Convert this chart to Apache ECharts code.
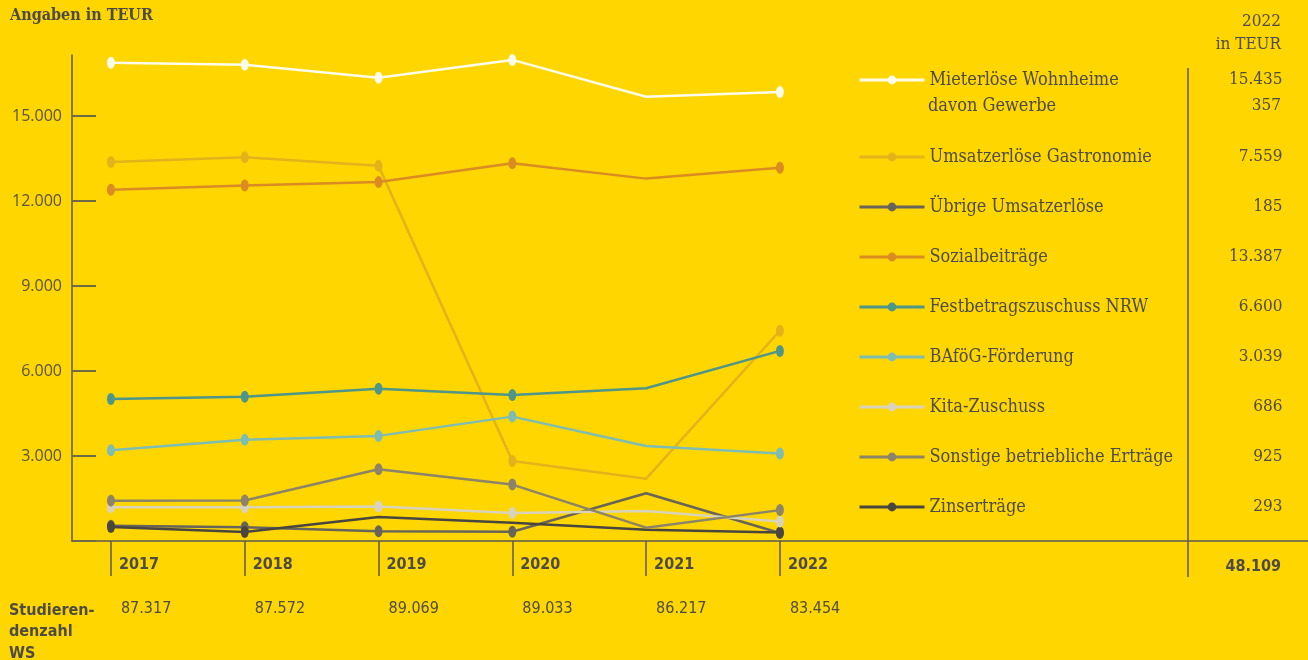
<!DOCTYPE html>
<html><head><meta charset="utf-8">
<script src="https://cdn.jsdelivr.net/npm/echarts@6/dist/echarts.min.js"></script>
<style>html,body{margin:0;padding:0;background:#FFD600;} #c{width:1308px;height:660px;}</style>
</head><body><div id="c"></div>
<script>
// ---- data ----
const years = [2017, 2018, 2019, 2020, 2021, 2022];
const yTicks = [3000, 6000, 9000, 12000, 15000];
const mieterloese = [16880, 16810, 16350, 16980, 15680, 15850];
const gastronomie = [13380, 13540, 13240, 2820, 2200, 7420];
const uebrige = [540, 484, 342, 328, 1684, 282];
const sozial = [12400, 12550, 12670, 13330, 12790, 13170];
const festbetrag = [5010, 5090, 5370, 5150, 5390, 6710];
const bafoeg = [3200, 3570, 3710, 4390, 3350, 3090];
const kita = [1190, 1190, 1215, 985, 1055, 685];
const sonstige = [1425, 1430, 2530, 1990, 470, 1090];
const zins = [494, 318, 847, 646, 400, 300];
const names = ['Mieterlöse Wohnheime', 'Umsatzerlöse Gastronomie', 'Übrige Umsatzerlöse', 'Sozialbeiträge',
  'Festbetragszuschuss NRW', 'BAföG-Förderung', 'Kita-Zuschuss', 'Sonstige betriebliche Erträge', 'Zinserträge'];
const values2022 = ['15.435', '7.559', '185', '13.387', '6.600', '3.039', '686', '925', '293'];
const gewerbeLabel = 'davon Gewerbe';
const gewerbeValue = '357';
const total2022 = '48.109';
const students = ['87.317', '87.572', '89.069', '89.033', '86.217', '83.454'];

// ---- style ----
const TXT = '#4d4b45';
const BG = '#FFD600';
const serif = '"DejaVu Serif Condensed", "DejaVu Serif", serif';
const cond = '"DejaVu Sans Condensed", "DejaVu Sans", sans-serif';
const colors = ['#FFFCEA', '#E2B31A', '#67645B', '#DA8B22', '#4E968A', '#7EBDB3', '#D8D3BA', '#8C8468', '#48463F'];
const seriesData = [mieterloese, gastronomie, uebrige, sozial, festbetrag, bafoeg, kita, sonstige, zins];
const noMarker = [[2021], [2021], [2021], [2021], [2021], [2021], [2021], [2021], [2019, 2020, 2021]];
const zOrder = [9, 5, 3, 6, 7, 6, 4, 4, 3];

const series = names.map((n, k) => ({
  type: 'line', name: n,
  data: years.map((y, i) => {
    const p = { value: [y, seriesData[k][i]] };
    if (noMarker[k].includes(y)) p.symbol = 'none';
    return p;
  }),
  symbol: 'circle', symbolSize: [8, 12], showSymbol: true,
  lineStyle: { width: 2.5, color: colors[k] },
  itemStyle: { color: colors[k] },
  z: zOrder[k], animation: false, silent: true
}));

const valMap = {};
names.forEach((n, i) => valMap[n] = values2022[i]);
const legendText = {
  color: TXT, fontFamily: serif, fontSize: 18, lineHeight: 20,
  rich: {
    n: { width: 290, color: TXT, fontFamily: serif, fontSize: 18, lineHeight: 20 },
    v: { width: 63, align: 'right', color: TXT, fontFamily: serif, fontSize: 17, lineHeight: 20 }
  }
};
const legendBase = {
  orient: 'vertical', left: 858, padding: 0, itemWidth: 65, itemHeight: 11,
  selectedMode: false, formatter: n => '{n|' + n + '}{v|' + valMap[n] + '}', textStyle: legendText,
  lineStyle: { width: 3 }
};

const xMin = 2016.709, xMax = 2025.947;
const chart = echarts.init(document.getElementById('c'));
chart.setOption({
  backgroundColor: BG,
  animation: false,
  grid: { left: 72, right: 0, top: 55, bottom: 119, containLabel: false },
  xAxis: [{
    type: 'value', min: xMin, max: xMax, position: 'bottom',
    splitLine: { show: false },
    axisLine: { show: true, lineStyle: { color: '#5a5850', width: 1.5 } },
    axisTick: { show: true, customValues: years, length: 35, lineStyle: { color: '#5a5850', width: 1.5 } },
    axisLabel: { customValues: years, formatter: v => String(v), align: 'left', padding: [0, 0, 0, 8],
      margin: 16, color: TXT, fontFamily: cond, fontWeight: 'bold', fontSize: 16 }
  }, {
    type: 'value', min: xMin, max: xMax, position: 'bottom', offset: 50,
    splitLine: { show: false }, axisLine: { show: false }, axisTick: { show: false },
    axisLabel: { customValues: years, formatter: v => students[years.indexOf(Math.round(v))] || '',
      align: 'left', padding: [0, 0, 0, 10], margin: 10, color: TXT, fontFamily: cond, fontSize: 16 }
  }],
  yAxis: {
    type: 'value', min: 0, max: 17153,
    splitLine: { show: false },
    axisLine: { show: true, lineStyle: { color: '#5a5850', width: 1.5 } },
    axisTick: { show: true, inside: true, length: 24, customValues: [0].concat(yTicks), lineStyle: { color: '#6e6a48', width: 2 } },
    axisLabel: { margin: 10, color: '#55534a', fontFamily: '"Open Sans", sans-serif', fontSize: 16, customValues: yTicks,
      formatter: v => v.toLocaleString('de-DE') }
  },
  legend: [
    Object.assign({}, legendBase, { top: 70, data: [names[0]] }),
    Object.assign({}, legendBase, { top: 147, itemGap: 30, data: names.slice(1) })
  ],
  graphic: [
    { type: 'text', x: 10, y: 8, style: { text: 'Angaben in TEUR', fill: TXT, font: 'bold 16px "DejaVu Serif Condensed", "DejaVu Serif", serif' } },
    { type: 'text', x: 1281, y: 22, style: { text: '2022', fill: TXT, align: 'right', verticalAlign: 'middle', font: '17px ' + serif } },
    { type: 'text', x: 1281, y: 45, style: { text: 'in TEUR', fill: TXT, align: 'right', verticalAlign: 'middle', font: '17px ' + serif } },
    { type: 'text', x: 928, y: 106, style: { text: gewerbeLabel, fill: TXT, verticalAlign: 'middle', font: '18px ' + serif } },
    { type: 'text', x: 1281, y: 106, style: { text: gewerbeValue, fill: TXT, align: 'right', verticalAlign: 'middle', font: '17px ' + serif } },
    { type: 'line', shape: { x1: 1188, y1: 68, x2: 1188, y2: 577 }, style: { stroke: '#5a5850', lineWidth: 1.5 } },
    { type: 'text', x: 1281, y: 567, style: { text: total2022, fill: TXT, align: 'right', verticalAlign: 'middle', font: 'bold 16px ' + cond } },
    { type: 'text', x: 9, y: 600, style: { text: 'Studieren-\ndenzahl\nWS', fill: TXT, lineHeight: 21.5, font: 'bold 16px ' + cond } }
  ],
  series: series
});
</script>
</body></html>
